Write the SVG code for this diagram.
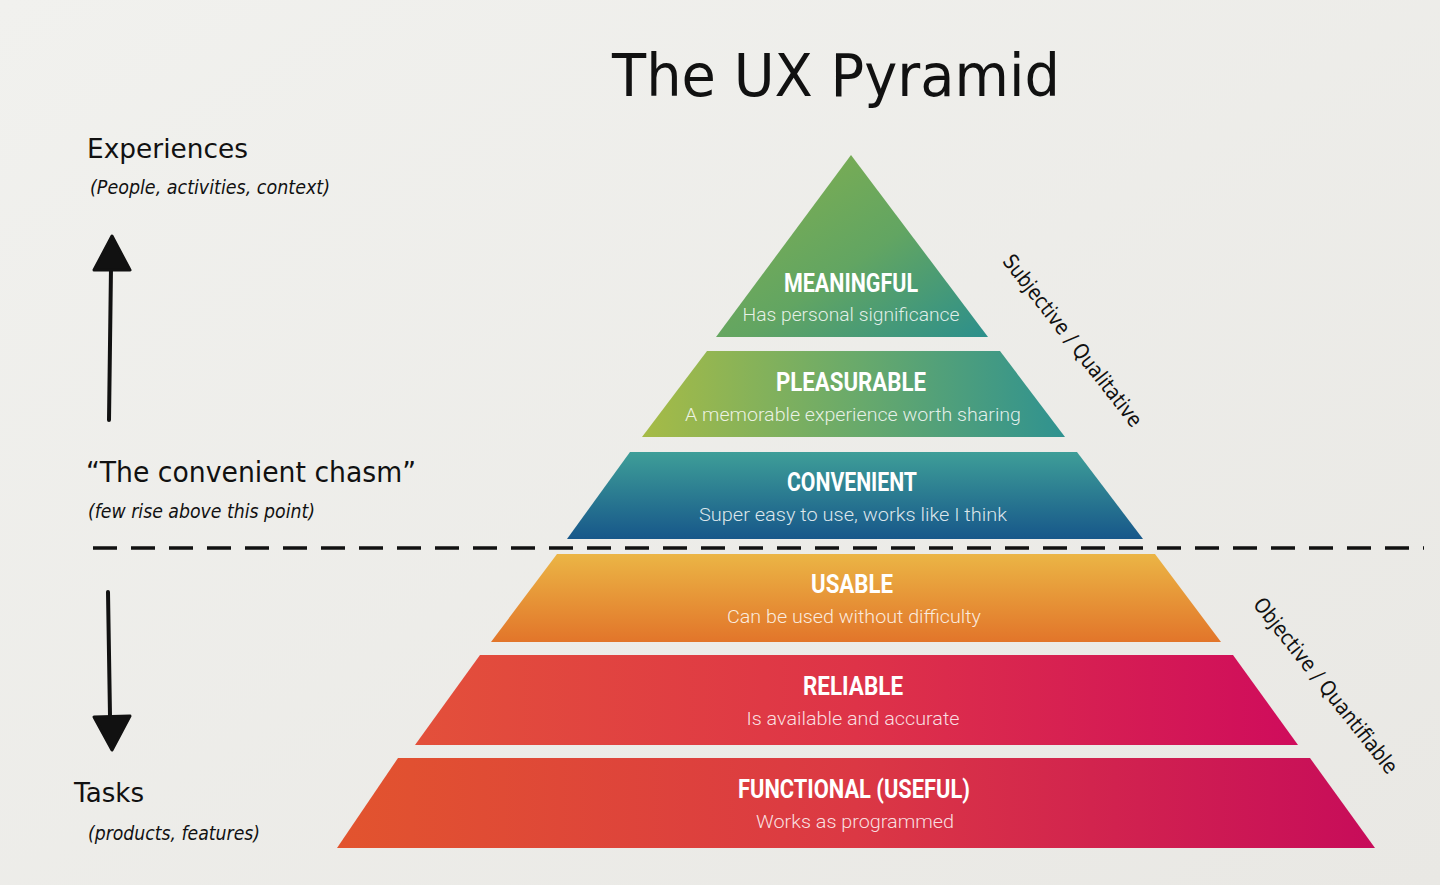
<svg xmlns="http://www.w3.org/2000/svg" width="1440" height="885" viewBox="0 0 1440 885">
<defs>
<linearGradient id="bg" x1="0" y1="0" x2="1" y2="1"><stop offset="0" stop-color="#f1f1ee"/><stop offset="1" stop-color="#e9e8e4"/></linearGradient>
<linearGradient id="gM" x1="0" y1="0" x2="1" y2="1"><stop offset="0" stop-color="#86b04c"/><stop offset="0.55" stop-color="#62a562"/><stop offset="1" stop-color="#2c8f8c"/></linearGradient>
<linearGradient id="gP" x1="0" y1="0" x2="1" y2="0"><stop offset="0" stop-color="#a6bb46"/><stop offset="0.5" stop-color="#6aaa6a"/><stop offset="1" stop-color="#2f9290"/></linearGradient>
<linearGradient id="gC" x1="0" y1="0" x2="0" y2="1"><stop offset="0" stop-color="#3e9e98"/><stop offset="1" stop-color="#17578a"/></linearGradient>
<linearGradient id="gU" x1="0" y1="0" x2="0" y2="1"><stop offset="0" stop-color="#ebb545"/><stop offset="1" stop-color="#e2752a"/></linearGradient>
<linearGradient id="gR" x1="0" y1="0" x2="1" y2="0"><stop offset="0" stop-color="#e3503a"/><stop offset="0.5" stop-color="#de3348"/><stop offset="1" stop-color="#cf0c5c"/></linearGradient>
<linearGradient id="gF" x1="0" y1="0" x2="1" y2="0"><stop offset="0" stop-color="#e2542e"/><stop offset="0.5" stop-color="#db3844"/><stop offset="1" stop-color="#c70c5a"/></linearGradient>
</defs>
<style>
.t{font-family:Roboto,"Liberation Sans",sans-serif;font-weight:bold;fill:#ffffff;text-anchor:middle;font-size:25px}
.s{font-family:Roboto,"Liberation Sans",sans-serif;font-weight:300;fill:#ffffff;fill-opacity:0.85;text-anchor:middle;font-size:18px}
.h{font-family:"DejaVu Sans","Liberation Sans",sans-serif;fill:#111111}
.hi{font-family:"DejaVu Sans","Liberation Sans",sans-serif;font-style:italic;fill:#111111;font-size:19px}
.ln{stroke:#111111;stroke-width:4;fill:none;stroke-linecap:round}
</style>
<rect width="1440" height="885" fill="url(#bg)"/>
<g id="title"><text class="h" x="836" y="96" font-size="58" textLength="448" lengthAdjust="spacingAndGlyphs" text-anchor="middle">The UX Pyramid</text></g>
<g id="experiences">
<text class="h" x="87" y="158" font-size="27" textLength="161" lengthAdjust="spacingAndGlyphs">Experiences</text>
<text class="hi" x="90" y="194" textLength="240" lengthAdjust="spacingAndGlyphs">(People, activities, context)</text>
</g>
<g id="chasm">
<text class="h" x="86" y="482" font-size="28" textLength="330" lengthAdjust="spacingAndGlyphs">“The convenient chasm”</text>
<text class="hi" x="88" y="518" textLength="227" lengthAdjust="spacingAndGlyphs">(few rise above this point)</text>
</g>
<g id="tasks">
<text class="h" x="74" y="802" font-size="26" textLength="70" lengthAdjust="spacingAndGlyphs">Tasks</text>
<text class="hi" x="88" y="840" textLength="172" lengthAdjust="spacingAndGlyphs">(products, features)</text>
</g>
<g id="subjective"><text class="h" font-size="21" text-anchor="middle" transform="translate(1067,345) rotate(52)" textLength="212" lengthAdjust="spacingAndGlyphs">Subjective / Qualitative</text></g>
<g id="objective"><text class="h" font-size="21" text-anchor="middle" transform="translate(1320,690) rotate(51.5)" textLength="218" lengthAdjust="spacingAndGlyphs">Objective / Quantifiable</text></g>
<g id="meaningful">
<polygon points="851,155 988,337 716,337" fill="url(#gM)"/>
<text class="t" x="851" y="292" textLength="134" lengthAdjust="spacingAndGlyphs">MEANINGFUL</text>
<text class="s" x="851" y="321" textLength="217" lengthAdjust="spacingAndGlyphs">Has personal significance</text>
</g>
<g id="pleasurable">
<polygon points="707,351 1000,351 1065,437 642,437" fill="url(#gP)"/>
<text class="t" x="851" y="391" textLength="150" lengthAdjust="spacingAndGlyphs">PLEASURABLE</text>
<text class="s" x="853" y="421" textLength="336" lengthAdjust="spacingAndGlyphs">A memorable experience worth sharing</text>
</g>
<g id="convenient">
<polygon points="630,452 1077,452 1143,539 567,539" fill="url(#gC)"/>
<text class="t" x="852" y="491" textLength="130" lengthAdjust="spacingAndGlyphs">CONVENIENT</text>
<text class="s" x="853" y="521" textLength="308" lengthAdjust="spacingAndGlyphs">Super easy to use, works like I think</text>
</g>
<g id="usable">
<polygon points="557,554 1155,554 1221,642 491,642" fill="url(#gU)"/>
<text class="t" x="852" y="593" textLength="82" lengthAdjust="spacingAndGlyphs">USABLE</text>
<text class="s" x="854" y="623" textLength="254" lengthAdjust="spacingAndGlyphs">Can be used without difficulty</text>
</g>
<g id="reliable">
<polygon points="480,655 1233,655 1298,745 415,745" fill="url(#gR)"/>
<text class="t" x="853" y="695" textLength="100" lengthAdjust="spacingAndGlyphs">RELIABLE</text>
<text class="s" x="853" y="725" textLength="213" lengthAdjust="spacingAndGlyphs">Is available and accurate</text>
</g>
<g id="functional">
<polygon points="398,758 1310,758 1375,848 337,848" fill="url(#gF)"/>
<text class="t" x="854" y="798" textLength="232" lengthAdjust="spacingAndGlyphs">FUNCTIONAL (USEFUL)</text>
<text class="s" x="855" y="828" textLength="198" lengthAdjust="spacingAndGlyphs">Works as programmed</text>
</g>
<g id="connectors">
<line class="ln" x1="109" y1="420" x2="111" y2="268"/>
<polygon points="112,236 130,270 94,270" fill="#111111" stroke="#111111" stroke-width="3" stroke-linejoin="round"/>
<line class="ln" x1="108" y1="592" x2="110" y2="716"/>
<polygon points="94,717 130,716 112,750" fill="#111111" stroke="#111111" stroke-width="3" stroke-linejoin="round"/>
<line x1="93" y1="548" x2="1424" y2="548" stroke="#111111" stroke-width="3.5" stroke-dasharray="24,14"/>
</g>
</svg>
